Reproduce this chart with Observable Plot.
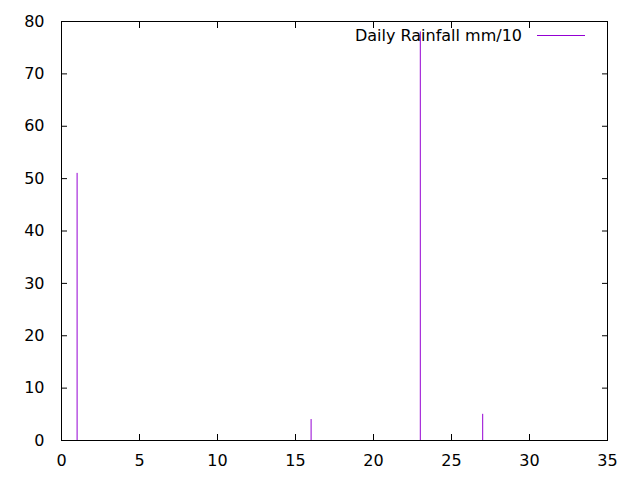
<!DOCTYPE html>
<html><head><meta charset="utf-8">
<script src="https://cdn.jsdelivr.net/npm/d3@7"></script>
<script src="https://cdn.jsdelivr.net/npm/@observablehq/plot@0.6"></script>
<style>body{margin:0;background:#fff}</style>
</head><body><div id="chart"></div>
<script>
const days = [1, 16, 23, 27];
const rainfall = [51, 4, 78, 5];
const xTicks = [0, 5, 10, 15, 20, 25, 30, 35];
const yTicks = [0, 10, 20, 30, 40, 50, 60, 70, 80];
const seriesLabel = "Daily Rainfall mm/10";
const color = "#9400d3";

const data = days.map((d, i) => ({day: d, value: rainfall[i]}));
const font = "DejaVu Sans, sans-serif";

const legend = (index, scales, values, dims) => {
  const ns = "http://www.w3.org/2000/svg";
  const g = document.createElementNS(ns, "g");
  const x2 = dims.width - dims.marginRight - 22;
  const x1 = x2 - 48;
  const y = dims.marginTop + 14.5;
  const line = document.createElementNS(ns, "line");
  line.setAttribute("x1", x1); line.setAttribute("x2", x2);
  line.setAttribute("y1", y); line.setAttribute("y2", y);
  line.setAttribute("stroke", color);
  g.appendChild(line);
  const t = document.createElementNS(ns, "text");
  t.setAttribute("x", x1 - 15); t.setAttribute("y", y);
  t.setAttribute("text-anchor", "end");
  t.setAttribute("dy", "0.35em");
  t.setAttribute("font-family", font);
  t.setAttribute("font-size", "16");
  t.setAttribute("fill", "#000");
  t.textContent = seriesLabel;
  g.appendChild(t);
  return g;
};

const chart = Plot.plot({
  width: 640, height: 480,
  marginLeft: 61, marginRight: 33, marginTop: 21, marginBottom: 40,
  style: {fontFamily: font, fontSize: "16px", color: "#000", background: "#fff"},
  x: {domain: [0, 35]},
  y: {domain: [0, 80]},
  marks: [
    Plot.ruleX(data, {x: "day", y1: 0, y2: "value", stroke: color, strokeWidth: 1}),
    legend,
    Plot.axisX({anchor: "bottom", ticks: xTicks, tickSize: -6, tickPadding: 20, label: null, fontSize: 16}),
    Plot.axisX({anchor: "top", ticks: xTicks, tickSize: -6, tickFormat: () => "", label: null}),
    Plot.axisY({anchor: "left", ticks: yTicks, tickSize: -6, tickPadding: 23, label: null, fontSize: 16}),
    Plot.axisY({anchor: "right", ticks: yTicks, tickSize: -6, tickFormat: () => "", label: null}),
    Plot.frame({stroke: "#000"})
  ]
});
document.getElementById("chart").appendChild(chart);
</script>
</body></html>
